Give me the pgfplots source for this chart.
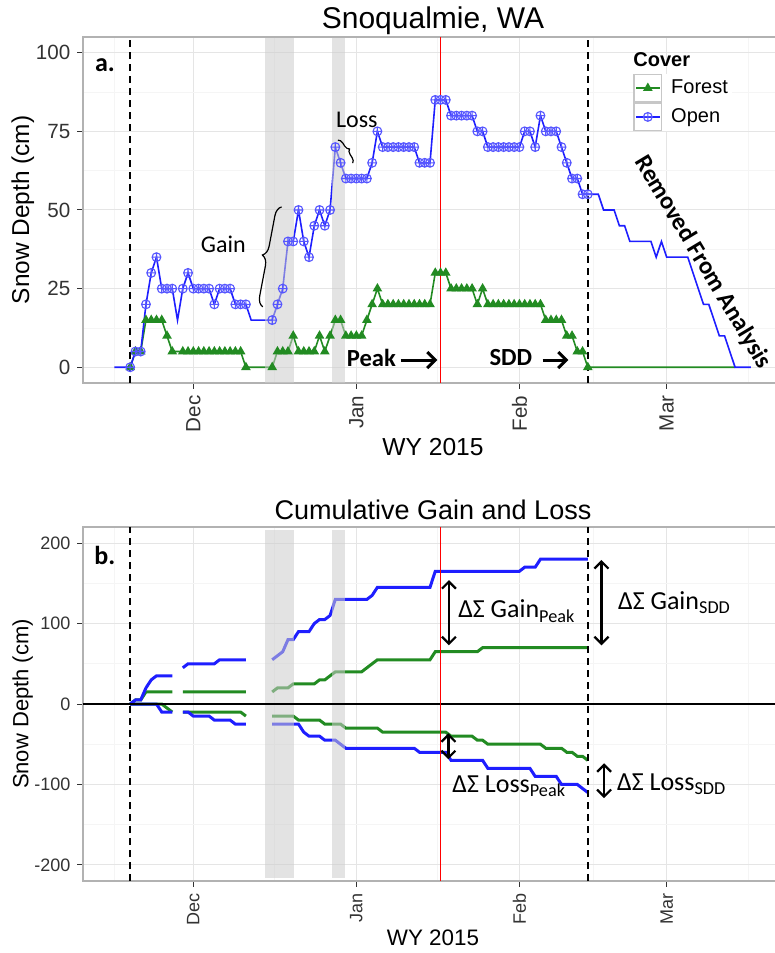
\documentclass[border=0pt]{standalone}
\usepackage{fontspec}
\setmainfont{Liberation Sans}
\newfontfamily\calibri{Carlito}
\usepackage{pgfplots}
\usepackage{pgfplotstable}
\pgfplotsset{compat=1.18}
\usetikzlibrary{decorations.pathreplacing,arrows.meta}

\definecolor{openblue}{RGB}{30,30,255}
\definecolor{forestg}{RGB}{34,139,34}
\definecolor{bandgray}{RGB}{204,204,204}

% daily snow depth, day 0 = 1 Dec 2014; om/fm = days that carry a marker
\pgfplotstableread{
d open om forest fm
-15 0 nan nan nan
-14 0 nan nan nan
-13 0 nan nan nan
-12 0 0 0 0
-11 5 5 5 5
-10 5 5 5 5
-9 20 20 15 15
-8 30 30 15 15
-7 35 35 15 15
-6 25 25 15 15
-5 25 25 10 10
-4 25 25 5 5
-3 15 nan 5 nan
-2 25 25 5 5
-1 30 30 5 5
0 25 25 5 5
1 25 25 5 5
2 25 25 5 5
3 25 25 5 5
4 20 20 5 5
5 25 25 5 5
6 25 25 5 5
7 25 25 5 5
8 20 20 5 5
9 20 20 5 5
10 20 20 0 0
11 15 nan 0 nan
12 15 nan 0 nan
13 15 nan 0 nan
14 15 nan 0 nan
15 15 15 0 0
16 20 20 5 5
17 25 25 5 5
18 40 40 5 5
19 40 40 10 10
20 50 50 5 5
21 40 40 5 5
22 35 35 5 5
23 45 45 5 5
24 50 50 10 10
25 45 45 5 5
26 50 50 10 10
27 70 70 15 15
28 65 65 15 15
29 60 60 10 10
30 60 60 10 10
31 60 60 10 10
32 60 60 10 10
33 60 60 15 15
34 65 65 20 20
35 75 75 25 25
36 70 70 20 20
37 70 70 20 20
38 70 70 20 20
39 70 70 20 20
40 70 70 20 20
41 70 70 20 20
42 70 70 20 20
43 65 65 20 20
44 65 65 20 20
45 65 65 20 20
46 85 85 30 30
47 85 85 30 30
48 85 85 30 30
49 80 80 25 25
50 80 80 25 25
51 80 80 25 25
52 80 80 25 25
53 80 80 25 25
54 75 75 20 20
55 75 75 25 25
56 70 70 20 20
57 70 70 20 20
58 70 70 20 20
59 70 70 20 20
60 70 70 20 20
61 70 70 20 20
62 70 70 20 20
63 75 75 20 20
64 75 75 20 20
65 70 70 20 20
66 80 80 20 20
67 75 75 15 15
68 75 75 15 15
69 75 75 15 15
70 70 70 15 15
71 65 65 10 10
72 60 60 10 10
73 60 60 5 5
74 55 55 5 5
75 55 55 0 0
76 55 nan 0 nan
77 55 nan 0 nan
78 50 nan 0 nan
79 50 nan 0 nan
80 50 nan 0 nan
81 45 nan 0 nan
82 45 nan 0 nan
83 40 nan 0 nan
84 40 nan 0 nan
85 40 nan 0 nan
86 40 nan 0 nan
87 40 nan 0 nan
88 35 nan 0 nan
89 40 nan 0 nan
90 35 nan 0 nan
91 35 nan 0 nan
92 35 nan 0 nan
93 35 nan 0 nan
94 35 nan 0 nan
95 30 nan 0 nan
96 25 nan 0 nan
97 20 nan 0 nan
98 20 nan 0 nan
99 15 nan 0 nan
100 10 nan 0 nan
101 10 nan 0 nan
102 5 nan 0 nan
103 0 nan 0 nan
104 0 nan nan nan
105 0 nan nan nan
106 0 nan nan nan
}\depthtab

% cumulative gain (g) and loss (l), open (o) and forest (f)
\pgfplotstableread{
d og ol fg fl
-12 0 0 0 0
-11 5 0 5 0
-10 5 0 5 0
-9 20 0 15 0
-8 30 0 15 0
-7 35 0 15 0
-6 35 -10 15 0
-5 35 -10 15 -5
-4 35 -10 15 -10
-3 nan nan nan nan
-2 45 -10 15 -10
-1 50 -10 15 -10
0 50 -15 15 -10
1 50 -15 15 -10
2 50 -15 15 -10
3 50 -15 15 -10
4 50 -20 15 -10
5 55 -20 15 -10
6 55 -20 15 -10
7 55 -20 15 -10
8 55 -25 15 -10
9 55 -25 15 -10
10 55 -25 15 -15
12 nan nan nan nan
15 55 -25 15 -15
16 60 -25 20 -15
17 65 -25 20 -15
18 80 -25 20 -15
19 80 -25 25 -15
20 90 -25 25 -20
21 90 -35 25 -20
22 90 -40 25 -20
23 100 -40 25 -20
24 105 -40 30 -20
25 105 -45 30 -25
26 110 -45 35 -25
27 130 -45 40 -25
28 130 -50 40 -25
29 130 -55 40 -30
30 130 -55 40 -30
31 130 -55 40 -30
32 130 -55 40 -30
33 130 -55 45 -30
34 135 -55 50 -30
35 145 -55 55 -30
36 145 -55 55 -35
37 145 -55 55 -35
38 145 -55 55 -35
39 145 -55 55 -35
40 145 -55 55 -35
41 145 -55 55 -35
42 145 -55 55 -35
43 145 -60 55 -35
44 145 -60 55 -35
45 145 -60 55 -35
46 165 -60 65 -35
47 165 -60 65 -35
48 165 -60 65 -35
49 165 -70 65 -40
50 165 -70 65 -40
51 165 -70 65 -40
52 165 -70 65 -40
53 165 -70 65 -40
54 165 -70 65 -45
55 165 -70 70 -45
56 165 -80 70 -50
57 165 -80 70 -50
58 165 -80 70 -50
59 165 -80 70 -50
60 165 -80 70 -50
61 165 -80 70 -50
62 165 -80 70 -50
63 170 -80 70 -50
64 170 -80 70 -50
65 170 -90 70 -50
66 180 -90 70 -50
67 180 -90 70 -55
68 180 -90 70 -55
69 180 -90 70 -55
70 180 -100 70 -55
71 180 -100 70 -60
72 180 -100 70 -60
73 180 -100 70 -65
74 180 -105 70 -65
75 180 -110 70 -70
}\cumtab

\tikzset{
  band/.style={fill=bandgray, opacity=0.55},
  sdd/.style={black, dash pattern=on 3.5pt off 2.5pt, line width=0.8pt},
  dbl/.style={{Straight Barb[length=3.5pt,width=7pt]}-{Straight Barb[length=3.5pt,width=7pt]}, line width=1.1pt},
  barrow/.style={-{Straight Barb[length=4pt,width=8pt]}, line width=1.5pt},
}

\pgfplotsset{
  snow/.style={
    scale only axis, width=350pt, anchor=south west,
    xmin=-20.97, xmax=112.11,
    xtick={0,31,62,90}, xticklabels={Dec,Jan,Feb,Mar},
    minor xtick={-15,15.5,46.5,76,105.5},
    grid=both,
    major grid style={black!10, line width=0.5pt},
    minor grid style={black!4, line width=0.4pt},
    axis line style={black!30, line width=0.6pt},
    tick align=outside, tick pos=left,
    major tick length=2.8pt, minor tick length=0pt,
    major tick style={black!80, line width=0.5pt},
    xticklabel style={rotate=90, anchor=east, text=black!80},
    yticklabel style={text=black!80},
    unbounded coords=jump,
    title style={at={(0.5,1)}, anchor=south, inner sep=0pt},
    xlabel style={at={(axis description cs:0.5,0)}, anchor=north, inner sep=0pt},
    ylabel style={at={(axis description cs:-0.086,0.5)}, anchor=center, inner sep=0pt},
  },
  openl/.style={color=openblue, line width=0.8pt, mark=oplus, mark size=2.2pt,
    mark options={solid, line width=0.55pt, draw=openblue!75}},
  forestl/.style={color=forestg, line width=0.8pt, mark=triangle*, mark size=2pt,
    mark options={solid, fill=forestg, draw=forestg}},
}

\begin{document}
\begin{tikzpicture}
% ---- a. snow depth ----
\begin{axis}[snow,
  at={(41.5pt,285pt)}, height=173pt,
  ymin=-5, ymax=105,
  ytick={0,25,50,75,100}, yticklabels={0,25,50,75,100},
  minor ytick={12.5,37.5,62.5,87.5},
  tick label style={font=\fontsize{10.3}{12}\selectfont},
  title={Snoqualmie, WA},
  title style={yshift=-5pt, font=\fontsize{15}{18}\selectfont},
  xlabel={WY 2015},
  xlabel style={yshift=-27.5pt, font=\fontsize{12.3}{14}\selectfont},
  ylabel={Snow Depth (cm)},
  ylabel style={font=\fontsize{12.2}{14}\selectfont},
  legend style={at={(axis cs:83.6,93.45)}, anchor=north west, draw=none, fill=white,
    inner sep=0pt, row sep=0pt, column sep=2.5pt, cells={anchor=west},
    font=\fontsize{10}{12}\selectfont},
  legend image code/.code={
    \draw[black!22, fill=white, line width=0.6pt, solid] (0pt,-6.9pt) rectangle (13.8pt,6.9pt);
    \draw[mark repeat=2, mark phase=2, #1] plot coordinates {(1pt,0pt) (6.9pt,0pt) (12.8pt,0pt)};
  },
]
\addplot[forestl, mark=none, forget plot] table[x=d, y=forest] {\depthtab};
\addplot[forestl, only marks, forget plot] table[x=d, y=fm] {\depthtab};
\addplot[openl, mark=none, forget plot] table[x=d, y=open] {\depthtab};
\addplot[openl, only marks, forget plot] table[x=d, y=om] {\depthtab};

\fill[band] (axis cs:13.63,-5) rectangle (axis cs:19.05,104.7);
\fill[band] (axis cs:26.43,-5) rectangle (axis cs:28.75,104.7);
\draw[sdd] (axis cs:-12,-5) -- (axis cs:-12,105);
\draw[sdd] (axis cs:75,-5) -- (axis cs:75,105);
\draw[red, line width=0.75pt] (axis cs:47,-5) -- (axis cs:47,105);

\node[font=\calibri\bfseries\fontsize{13}{15}\selectfont] at (axis cs:-16.8,96) {a.};
\node[font=\calibri\fontsize{12}{14}\selectfont] at (axis cs:5.7,39) {Gain};
\draw[decorate, decoration={brace, amplitude=5pt}, line width=0.6pt]
  (axis cs:13.2,19.2) -- (axis cs:16.8,51);
\node[font=\calibri\fontsize{12}{14}\selectfont] at (axis cs:31.1,78.6) {Loss};
\draw[decorate, decoration={brace, amplitude=2.5pt}, line width=0.6pt]
  (axis cs:27.5,72.2) -- (axis cs:30.3,64.9);
\node[anchor=east, inner sep=0pt, font=\calibri\bfseries\fontsize{12.3}{14}\selectfont] at (axis cs:38.6,3) {Peak};
\draw[barrow] (axis cs:39.4,2.3) -- (axis cs:46.4,2.3);
\node[anchor=east, inner sep=0pt, font=\calibri\bfseries\fontsize{12.3}{14}\selectfont] at (axis cs:64.5,3) {SDD};
\draw[barrow] (axis cs:66.4,2.3) -- (axis cs:71.3,2.3);
\node[rotate=-59, inner sep=0pt, font=\calibri\bfseries\fontsize{12.3}{14}\selectfont] at (axis cs:96.9,33.3) {Removed From Analysis};

\node[anchor=west, inner sep=0pt, font=\bfseries\fontsize{10}{12}\selectfont] at (axis cs:83.6,97.7) {Cover};
\addlegendimage{forestl}
\addlegendentry{Forest}
\addlegendimage{openl}
\addlegendentry{Open}
\end{axis}

% ---- b. cumulative gain and loss ----
\begin{axis}[snow,
  at={(41.5pt,36pt)}, height=177pt,
  ymin=-220, ymax=220,
  ytick={-200,-100,0,100,200}, yticklabels={-200,-100,0,100,200},
  minor ytick={-150,-50,50,150},
  tick label style={font=\fontsize{9}{11}\selectfont},
  title={Cumulative Gain and Loss},
  title style={yshift=-2.4pt, font=\fontsize{13.5}{16}\selectfont},
  xlabel={WY 2015},
  xlabel style={yshift=-24.4pt, font=\fontsize{11.2}{13}\selectfont},
  ylabel={Snow Depth (cm)},
  ylabel style={font=\fontsize{11}{13}\selectfont},
]
\addplot[forestg, line width=1.5pt] table[x=d, y=fg] {\cumtab};
\addplot[forestg, line width=1.5pt] table[x=d, y=fl] {\cumtab};
\addplot[openblue, line width=1.5pt] table[x=d, y=og] {\cumtab};
\addplot[openblue, line width=1.5pt] table[x=d, y=ol] {\cumtab};

\fill[band] (axis cs:13.63,-215.8) rectangle (axis cs:19.05,216);
\fill[band] (axis cs:26.43,-215.8) rectangle (axis cs:28.75,216);
\draw[black, line width=0.6pt] (axis cs:-21,0) -- (axis cs:113,0);
\draw[sdd] (axis cs:-12,-220) -- (axis cs:-12,220);
\draw[sdd] (axis cs:75,-220) -- (axis cs:75,220);
\draw[red, line width=0.75pt] (axis cs:47,-220) -- (axis cs:47,220);

\node[font=\calibri\bfseries\fontsize{13}{15}\selectfont] at (axis cs:-16.8,185) {b.};
\draw[dbl] (axis cs:48.6,154) -- (axis cs:48.6,73);
\node[anchor=base west, inner sep=0pt, font=\calibri\fontsize{13}{15}\selectfont] at (axis cs:50.3,107) {ΔΣ Gain\textsubscript{Peak}};
\draw[dbl] (axis cs:77.6,179) -- (axis cs:77.6,73);
\node[anchor=base west, inner sep=0pt, font=\calibri\fontsize{13}{15}\selectfont] at (axis cs:80.7,117.5) {ΔΣ Gain\textsubscript{SDD}};
\draw[dbl] (axis cs:48.5,-36.4) -- (axis cs:48.5,-68.7);
\node[anchor=base west, inner sep=0pt, font=\calibri\fontsize{13}{15}\selectfont] at (axis cs:49.2,-110) {ΔΣ Loss\textsubscript{Peak}};
\draw[dbl] (axis cs:78.1,-73.7) -- (axis cs:78.1,-117);
\node[anchor=base west, inner sep=0pt, font=\calibri\fontsize{13}{15}\selectfont] at (axis cs:80.5,-108) {ΔΣ Loss\textsubscript{SDD}};
\end{axis}

\pgfresetboundingbox
\path[use as bounding box] (0pt,0pt) rectangle (387.5pt,476.5pt);
\end{tikzpicture}
\end{document}
